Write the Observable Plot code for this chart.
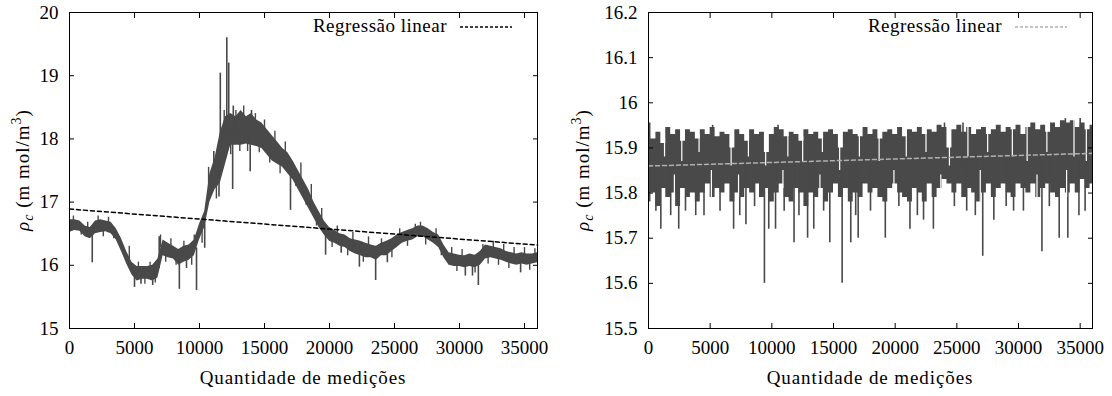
<!DOCTYPE html>
<html><head><meta charset="utf-8">
<script src="https://cdn.jsdelivr.net/npm/d3@7"></script>
<script src="https://cdn.jsdelivr.net/npm/@observablehq/plot@0.6"></script>
<style>
body{margin:0;background:#fff}
#wrap{display:flex;width:1112px;height:396px;overflow:hidden}
svg{display:block;flex:none}
</style>
</head><body><div id="wrap"></div>
<script>
// ---- Data ----
const xStep = 400; // sample spacing of the envelopes below (0 .. 36000)
const xTicks = [0, 5000, 10000, 15000, 20000, 25000, 30000, 35000];
const regX = [0, 36000];

// Left panel: lower / upper envelope of the noisy series
const leftLo = [16.52,16.55,16.54,16.45,16.42,16.50,16.52,16.53,16.50,16.40,16.22,16.02,15.85,15.75,15.78,15.78,15.75,15.80,16.15,16.12,16.10,16.00,16.05,16.08,16.15,16.40,16.60,17.00,17.20,17.30,17.60,17.90,17.90,17.90,17.92,17.90,17.88,17.85,17.75,17.65,17.60,17.55,17.45,17.35,17.20,17.05,16.90,16.75,16.60,16.48,16.38,16.35,16.30,16.28,16.22,16.18,16.15,16.12,16.12,16.08,16.15,16.15,16.22,16.28,16.35,16.38,16.40,16.45,16.45,16.40,16.35,16.28,16.12,16.00,15.98,15.98,15.96,15.98,15.96,16.00,16.10,16.12,16.10,16.08,16.05,16.02,16.00,16.02,16.00,16.02,16.04];
const leftHi = [16.72,16.72,16.70,16.62,16.60,16.70,16.72,16.70,16.68,16.58,16.42,16.22,16.05,15.98,15.98,15.98,16.00,16.10,16.40,16.35,16.30,16.25,16.30,16.32,16.40,16.65,16.85,17.45,17.70,18.10,18.35,18.40,18.35,18.45,18.35,18.40,18.30,18.25,18.15,18.05,17.95,17.85,17.78,17.65,17.50,17.35,17.20,17.00,16.85,16.70,16.60,16.55,16.50,16.48,16.42,16.40,16.38,16.35,16.32,16.30,16.35,16.38,16.42,16.48,16.52,16.55,16.58,16.62,16.62,16.58,16.52,16.48,16.32,16.20,16.18,16.16,16.15,16.18,16.16,16.22,16.32,16.30,16.28,16.26,16.22,16.20,16.18,16.20,16.18,16.18,16.20];
// Left panel large spikes: [x, tip value]
const leftSpikes = [[1750,16.04],[5000,15.65],[5500,15.70],[6400,15.68],[6900,16.45],[8450,15.62],[9000,15.95],[9770,15.60],[10400,16.27],[11100,17.80],[11500,17.08],[11600,19.04],[12100,19.60],[12250,19.20],[12550,17.20],[12600,18.52],[13900,17.48],[14000,18.45],[17000,16.87],[19700,16.16],[20900,16.19],[22300,15.97],[23550,15.76],[24450,16.04],[30450,15.83],[31000,15.83],[31450,15.68],[34700,15.88]];
// Left panel small noise excursions: [x, tip value]
const leftNoise = [[300,16.78],[900,16.48],[1400,16.68],[2200,16.78],[2600,16.45],[3000,16.76],[3400,16.42],[4200,16.12],[4600,16.30],[5300,16.05],[5800,15.70],[6200,16.05],[6600,15.72],[7000,16.48],[7400,16.05],[7800,16.42],[8200,16.00],[8800,16.38],[9400,16.00],[9600,16.48],[10200,16.35],[10700,17.55],[11300,17.05],[11900,18.45],[12400,17.75],[12800,18.45],[13100,17.80],[13400,18.52],[13700,17.80],[14300,18.40],[14600,17.78],[15000,18.30],[15400,17.62],[15800,18.12],[16200,17.45],[16600,17.95],[17400,17.25],[17800,17.62],[18200,16.95],[18600,17.28],[19000,16.62],[19400,16.90],[20200,16.28],[20600,16.62],[21400,16.15],[21800,16.52],[22600,16.05],[23000,16.45],[24000,16.42],[24800,16.12],[25400,16.58],[26000,16.30],[26600,16.65],[27000,16.68],[27400,16.32],[28200,16.58],[28600,16.15],[29400,16.28],[29800,15.90],[30200,16.25],[31200,15.88],[31800,16.33],[32200,16.02],[32600,16.38],[33000,16.00],[33400,16.33],[33800,15.95],[34200,16.28],[35000,16.28],[35400,15.92],[35800,16.26]];
const leftReg = [16.89, 16.32];

// Right panel: lower / upper envelope of the noisy series
const rightLo = [15.78,15.80,15.77,15.81,15.79,15.80,15.77,15.81,15.79,15.80,15.78,15.80,15.82,15.79,15.81,15.80,15.82,15.78,15.80,15.79,15.81,15.80,15.82,15.79,15.81,15.78,15.80,15.82,15.79,15.78,15.81,15.80,15.77,15.80,15.79,15.81,15.78,15.80,15.82,15.79,15.81,15.78,15.80,15.79,15.82,15.80,15.81,15.79,15.78,15.81,15.82,15.80,15.79,15.78,15.81,15.80,15.78,15.82,15.79,15.81,15.83,15.82,15.80,15.82,15.79,15.81,15.80,15.78,15.80,15.82,15.79,15.81,15.82,15.80,15.79,15.82,15.81,15.80,15.82,15.79,15.81,15.82,15.80,15.79,15.81,15.80,15.82,15.80,15.83,15.81,15.82];
const rightHi = [15.955,15.92,15.935,15.91,15.945,15.93,15.94,15.915,15.94,15.935,15.92,15.94,15.93,15.945,15.925,15.935,15.93,15.90,15.94,15.93,15.915,15.94,15.93,15.935,15.89,15.93,15.945,15.94,15.925,15.935,15.93,15.915,15.94,15.93,15.935,15.92,15.935,15.94,15.93,15.90,15.935,15.94,15.93,15.925,15.945,15.93,15.94,15.92,15.935,15.94,15.93,15.945,15.925,15.94,15.935,15.945,15.93,15.94,15.935,15.95,15.945,15.90,15.94,15.95,15.935,15.945,15.93,15.94,15.945,15.93,15.94,15.95,15.935,15.945,15.94,15.95,15.93,15.945,15.955,15.94,15.95,15.935,15.955,15.945,15.96,15.955,15.96,15.945,15.955,15.94,15.95];
const rightSpikes = [[600,15.76],[1000,15.72],[1800,15.75],[2450,15.72],[3000,15.76],[3830,15.75],[4500,15.75],[5800,15.76],[6900,15.72],[7400,15.75],[7900,15.73],[8600,15.77],[9400,15.60],[9750,15.72],[10300,15.72],[11000,15.76],[11800,15.69],[12200,15.75],[12900,15.70],[13400,15.72],[14200,15.76],[14700,15.69],[15700,15.60],[16400,15.69],[16800,15.75],[17000,15.70],[18000,15.76],[19200,15.70],[20300,15.77],[21200,15.72],[21800,15.75],[22300,15.74],[23100,15.72],[24800,15.77],[25800,15.76],[26500,15.75],[27100,15.66],[28000,15.74],[29000,15.77],[29600,15.76],[30400,15.76],[31900,15.67],[32500,15.77],[33300,15.70],[34000,15.70],[34900,15.75],[35400,15.76],[0,15.955],[5200,15.95],[10500,15.95],[24000,15.955],[25500,15.955],[33800,15.965],[35000,15.965]];
// Right panel: white gaps inside the band, from the top edge down to / from the bottom edge up to the value
const rightGapsTop = [[1300,15.88],[2700,15.87],[4100,15.89],[6700,15.86],[8100,15.88],[9500,15.86],[11300,15.88],[12500,15.87],[14100,15.89],[15500,15.85],[17100,15.88],[18700,15.87],[20900,15.88],[22500,15.89],[24400,15.86],[25900,15.88],[27500,15.89],[29500,15.88],[30700,15.87],[32300,15.89],[34500,15.88],[35500,15.87]];
const rightGapsBottom = [[2100,15.84],[5100,15.85],[7300,15.84],[10900,15.85],[13900,15.84],[19900,15.85],[23700,15.84],[26900,15.85],[31500,15.84],[33900,15.85]];
const rightReg = [15.860, 15.888];

const leftYTicks = [15, 16, 17, 18, 19, 20];
const rightYTicks = [15.5, 15.6, 15.7, 15.8, 15.9, 16.0, 16.1, 16.2];

// ---- Drawing ----
const SERIES = "#494949";
const FONT = "Liberation Serif, DejaVu Serif, serif";

function panel({lo, hi, spikes, noise = [], gapsTop = [], gapsBottom = [], curve = "linear", reg, yDomain, yTicks, yFmt, regColor, width, marginLeft, marginRight, ylabelX}) {
  const band = lo.map((v, i) => ({x: i * xStep, lo: v, hi: hi[i]}));
  const at = (x) => Math.round(x / xStep);
  const toSpike = ([x, tip]) => { const i = at(x); return {x, base: (lo[i] + hi[i]) / 2, tip}; };
  const spk = spikes.map(toSpike);
  const nz = noise.map(toSpike);
  const gT = gapsTop.map(([x, v]) => ({x, a: hi[at(x)] + 0.01, b: v}));
  const gB = gapsBottom.map(([x, v]) => ({x, a: lo[at(x)] - 0.01, b: v}));
  const regData = regX.map((x, i) => ({x, y: reg[i]}));
  const H = 396, mt = 12, mb = 68;
  const svg = Plot.plot({
    width, height: H, marginLeft, marginRight, marginTop: mt, marginBottom: mb,
    x: {domain: [0, 36000]},
    y: {domain: yDomain},
    style: {fontFamily: FONT, fontSize: "19px", background: "white", color: "black", overflow: "visible"},
    marks: [
      Plot.areaY(band, {x: "x", y1: "lo", y2: "hi", fill: SERIES, curve, clip: true}),
      Plot.ruleX(nz, {x: "x", y1: "base", y2: "tip", stroke: SERIES, strokeWidth: 1.4, clip: true}),
      Plot.ruleX(spk, {x: "x", y1: "base", y2: "tip", stroke: SERIES, strokeWidth: 1.6, clip: true}),
      Plot.ruleX(gT, {x: "x", y1: "a", y2: "b", stroke: "white", strokeWidth: 1.2, clip: true}),
      Plot.ruleX(gB, {x: "x", y1: "a", y2: "b", stroke: "white", strokeWidth: 1.2, clip: true}),
      Plot.line(regData, {x: "x", y: "y", stroke: regColor, strokeWidth: 1.5, strokeDasharray: "4,3"}),
      Plot.axisX({anchor: "bottom", ticks: xTicks, tickSize: -5, tickPadding: 17, label: null, tickFormat: d => String(d)}),
      Plot.axisX({anchor: "top", ticks: xTicks, tickSize: -5, tickFormat: () => "", label: null}),
      Plot.axisY({anchor: "left", ticks: yTicks, tickSize: -5, tickPadding: 16, tickFormat: yFmt, label: null}),
      Plot.axisY({anchor: "right", ticks: yTicks, tickSize: -5, tickFormat: () => "", label: null}),
      Plot.frame({stroke: "black", strokeWidth: 1})
    ]
  });
  const s = d3.select(svg);
  s.selectAll("text").attr("font-family", FONT);
  const plotRight = width - marginRight;
  const cx = (marginLeft + plotRight) / 2;
  // legend
  s.append("text").attr("x", plotRight - 90).attr("y", 32).attr("text-anchor", "end")
    .attr("font-family", FONT).attr("font-size", 19).style("letter-spacing", "0.5px").text("Regressão linear");
  s.append("line").attr("x1", plotRight - 77).attr("x2", plotRight - 25).attr("y1", 27).attr("y2", 27)
    .attr("stroke", regColor).attr("stroke-width", 1.5).attr("stroke-dasharray", "3,2");
  // x label
  s.append("text").attr("x", cx).attr("y", 384).attr("text-anchor", "middle")
    .attr("font-family", FONT).attr("font-size", 19).style("letter-spacing", "0.9px").text("Quantidade de medições");
  // y label
  const yl = s.append("text").attr("transform", `translate(${ylabelX},${(mt + H - mb) / 2}) rotate(-90)`)
    .attr("text-anchor", "middle").attr("font-family", FONT).attr("font-size", 19).style("letter-spacing", "1px");
  yl.append("tspan").attr("font-style", "italic").text("ρ");
  yl.append("tspan").attr("font-style", "italic").attr("font-size", 14).attr("dy", 4).text("c");
  yl.append("tspan").attr("dy", -4).text(" (m mol/m");
  yl.append("tspan").attr("font-size", 14).attr("dy", -8).text("3");
  yl.append("tspan").attr("dy", 8).text(")");
  return svg;
}

const wrap = document.getElementById("wrap");
wrap.append(panel({
  lo: leftLo, hi: leftHi, spikes: leftSpikes, noise: leftNoise, reg: leftReg,
  yDomain: [15, 20], yTicks: leftYTicks, yFmt: d => String(d),
  regColor: "black", width: 556, marginLeft: 69, marginRight: 19, ylabelX: 29
}));
wrap.append(panel({
  lo: rightLo, hi: rightHi, spikes: rightSpikes, gapsTop: rightGapsTop, gapsBottom: rightGapsBottom, curve: "step", reg: rightReg,
  yDomain: [15.5, 16.2], yTicks: rightYTicks, yFmt: d => String(+d.toFixed(1)),
  regColor: "#b0b0b0", width: 556, marginLeft: 92, marginRight: 20, ylabelX: 33
}));
</script>
</body></html>
